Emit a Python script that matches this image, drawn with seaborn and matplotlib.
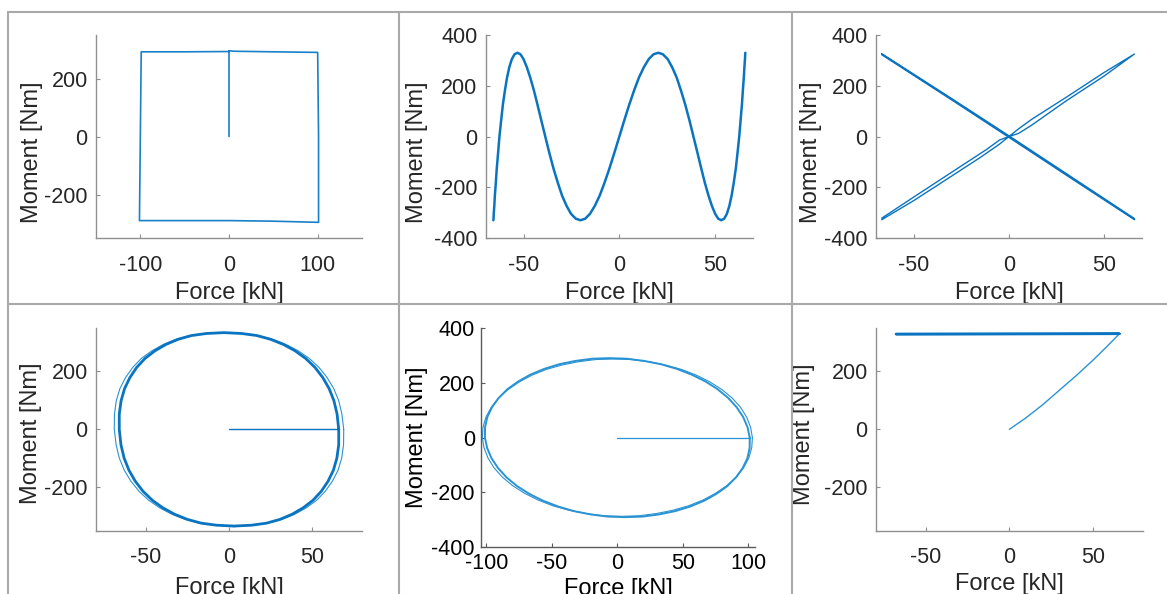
import numpy as np
import pandas as pd
import matplotlib
matplotlib.use("Agg")
import matplotlib.pyplot as plt
import seaborn as sns
from matplotlib.lines import Line2D

sns.set_theme(style="white")
plt.rcParams["font.family"] = ["Liberation Sans", "DejaVu Sans"]
plt.rcParams["axes.unicode_minus"] = False

# ---------------- Test 1: square path ----------------
sq_force = [0, 0, 5, 50, 100, 101, 101, 50, 0, -50, -101, -100, -99, -50, 0]
sq_moment = [0, 296, 294, 292, 290, 0, -296, -292, -290, -290, -290, 0, 292, 292, 293]

# ---------------- Test 2: oscillating moment ----------------
osc_force = [-66.0, -65.9, -65.8, -65.5, -65.2, -64.7, -64.2, -63.5, -62.8, -61.9,
             -61.0, -59.9, -58.8, -57.6, -56.3, -54.9, -53.4, -51.8, -50.2, -48.5,
             -46.7, -44.8, -42.9, -40.9, -38.8, -36.7, -34.5, -32.2, -30.0, -27.6,
             -25.3, -22.8, -20.4, -17.9, -15.4, -12.9, -10.3, -7.8, -5.2, -2.6,
             0.0, 2.6, 5.2, 7.8, 10.3, 12.9, 15.4, 17.9, 20.4, 22.8,
             25.3, 27.6, 30.0, 32.2, 34.5, 36.7, 38.8, 40.9, 42.9, 44.8,
             46.7, 48.5, 50.2, 51.8, 53.4, 54.9, 56.3, 57.6, 58.8, 59.9,
             61.0, 61.9, 62.8, 63.5, 64.2, 64.7, 65.2, 65.5, 65.8, 65.9, 66.0]
osc_moment = [-330, -324, -305, -274, -233, -183, -126, -64, 0, 64,
              126, 183, 233, 274, 305, 324, 330, 324, 305, 274,
              233, 183, 126, 64, 0, -64, -126, -183, -233, -274,
              -305, -324, -330, -324, -305, -274, -233, -183, -126, -64,
              0, 64, 126, 183, 233, 274, 305, 324, 330, 324,
              305, 274, 233, 183, 126, 64, 0, -64, -126, -183,
              -233, -274, -305, -324, -330, -324, -305, -274, -233, -183,
              -126, -64, 0, 64, 126, 183, 233, 274, 305, 324, 330]

# ---------------- Test 3: crossing diagonals ----------------
up_force = [-67, -50, -30, -15, -5, 0, 5, 12, 30, 50, 66, 50, 30, 12, 5, 0, -5, -12, -30, -50, -67]
up_moment = [-328, -252, -155, -82, -30, 0, 12, 45, 140, 238, 325, 252, 154, 68, 30, 0, -14, -52, -140, -238, -322]
down_force = [-67, -30, 0, 30, 66, 66, 30, 0, -30, -67]
down_moment = [326, 148, 2, -146, -324, -327, -151, -3, 144, 323]

# ---------------- Test 4: round orbit ----------------
orb_ramp_force = [0, 33, 66]
orb_ramp_moment = [0, 0, 0]
orb_main_force = [66.0, 65.0, 63.1, 60.2, 56.4, 51.7, 46.1, 39.8, 32.8, 25.0, 16.7, 7.6,
                  -3.0, -13.6, -22.5, -30.6, -38.0, -44.6, -50.5, -55.5, -59.6, -62.8, -64.9, -66.0,
                  -66.0, -65.0, -63.1, -60.2, -56.4, -51.7, -46.1, -39.8, -32.8, -25.0, -16.7, -7.6,
                  3.0, 13.6, 22.5, 30.6, 38.0, 44.6, 50.5, 55.5, 59.6, 62.8, 64.9, 66.0, 66.0]
orb_main_moment = [0, 53, 99, 141, 179, 214, 245, 271, 293, 311, 324, 331,
                   334, 331, 324, 311, 293, 271, 245, 214, 179, 141, 99, 53,
                   0, -53, -99, -141, -179, -214, -245, -271, -293, -311, -324, -331,
                   -334, -331, -324, -311, -293, -271, -245, -214, -179, -141, -99, -53, 0]
orb_outer_force = [69.0, 67.9, 66.0, 63.0, 59.0, 54.1, 48.3, 41.7, 34.4, 26.3, 17.6, 8.1,
                   -3.0, -14.1, -23.4, -31.9, -39.6, -46.5, -52.7, -57.9, -62.2, -65.6, -67.8, -68.9,
                   -69.0, -67.9, -66.0, -63.0, -59.0, -54.1, -48.3, -41.7, -34.4, -26.3, -17.6, -8.1,
                   3.0, 14.1, 23.4, 31.9, 39.6, 46.5, 52.7, 57.9, 62.2, 65.6, 67.8, 68.9, 69.0]
orb_outer_moment = [0, 53, 99, 141, 179, 214, 245, 271, 293, 311, 324, 331,
                    334, 331, 324, 311, 293, 271, 245, 214, 179, 141, 99, 53,
                    0, -53, -99, -141, -179, -214, -245, -271, -293, -311, -324, -331,
                    -336, -331, -324, -311, -293, -271, -245, -214, -179, -141, -99, -53, 0]

# ---------------- Test 5: flat ellipse ----------------
ell_ramp_force = [0, 50, 101]
ell_ramp_moment = [0, 0, 0]
ell_main_force = [101.0, 99.3, 96.0, 91.0, 84.5, 76.4, 67.2, 56.7, 45.3, 33.2, 20.3, 7.3,
                  -6.0, -19.1, -31.9, -44.2, -55.7, -66.3, -75.6, -83.8, -90.5, -95.6, -99.2, -100.9,
                  -101.0, -99.3, -96.0, -91.0, -84.5, -76.4, -67.2, -56.7, -45.3, -33.2, -20.3, -7.3,
                  6.0, 19.1, 31.9, 44.2, 55.7, 66.3, 75.6, 83.8, 90.5, 95.6, 99.2, 100.9, 101.0]
ell_main_moment = [0, 38, 75, 111, 145, 177, 205, 230, 251, 268, 280, 288,
                   290, 288, 280, 268, 251, 230, 205, 177, 145, 111, 75, 38,
                   0, -38, -75, -111, -145, -177, -205, -230, -251, -268, -280, -288,
                   -290, -288, -280, -268, -251, -230, -205, -177, -145, -111, -75, -38, 0]
ell_outer_force = [103.0, 101.7, 98.7, 94.1, 87.7, 79.9, 70.7, 60.3, 48.9, 36.6, 23.8, 10.4,
                   -3.0, -16.4, -29.6, -42.2, -54.1, -65.1, -74.9, -83.5, -90.7, -96.3, -100.3, -102.5,
                   -103.0, -101.7, -98.7, -94.1, -87.7, -79.9, -70.7, -60.3, -48.9, -36.6, -23.8, -10.4,
                   3.0, 16.4, 29.6, 42.2, 54.1, 65.1, 74.9, 83.5, 90.7, 96.3, 100.3, 102.5, 103.0]
ell_outer_moment = [0, 37, 74, 110, 144, 175, 203, 228, 249, 265, 277, 285,
                    287, 285, 277, 265, 249, 228, 203, 175, 144, 110, 74, 37,
                    0, -37, -74, -110, -144, -175, -203, -228, -249, -265, -277, -285,
                    -287, -285, -277, -265, -249, -228, -203, -175, -144, -110, -74, -37, 0]

# ---------------- Test 6: ramp then constant moment ----------------
ramp_force = [0, 10, 20, 30, 40, 50, 58, 66]
ramp_moment = [0, 40, 85, 135, 185, 238, 283, 330]
hold_force = [66, -68, 66]
hold_moment = [330, 329, 330]

W, H = 1167, 594
fig = plt.figure(figsize=(W / 100, H / 100), dpi=100)
fig.patch.set_facecolor("white")


def axes_px(x0, y0, x1, y1):
    return fig.add_axes([x0 / W, 1 - y1 / H, (x1 - x0) / W, (y1 - y0) / H])


def trace(ax, fx, my, color, lw):
    df = pd.DataFrame({"Force": fx, "Moment": my})
    sns.lineplot(data=df, x="Force", y="Moment", sort=False, estimator=None,
                 color=color, linewidth=lw, ax=ax)


def style(ax, xlim, ylim, xticks, yticks, xpad, ypad, xlab_y, ylab_x, ylab_y,
          text_color="#262626", spine_color="#8f8f8f"):
    ax.set_xlim(*xlim)
    ax.set_ylim(*ylim)
    ax.set_xticks(xticks)
    ax.set_yticks(yticks)
    ax.set_facecolor("white")
    for s in ("top", "right"):
        ax.spines[s].set_visible(False)
    for s in ("left", "bottom"):
        ax.spines[s].set_color(spine_color)
        ax.spines[s].set_linewidth(1.0)
    ax.tick_params(direction="in", length=3, width=0.8, color=spine_color,
                   labelsize=15.5, labelcolor=text_color, left=True, bottom=True)
    ax.tick_params(axis="x", pad=xpad)
    ax.tick_params(axis="y", pad=ypad)
    ax.set_xlabel("Force [kN]", fontsize=17, color=text_color)
    ax.set_ylabel("Moment [Nm]", fontsize=17, color=text_color)
    ax.xaxis.set_label_coords(0.5, xlab_y)
    ax.yaxis.set_label_coords(ylab_x, ylab_y)


blue = "#0b74c0"
mid = "#1a80c8"
light = "#2a93d4"

# Panel 1
ax1 = axes_px(96, 35, 362, 238)
trace(ax1, sq_force, sq_moment, mid, 1.2)
style(ax1, (-150, 150), (-350, 350), [-100, 0, 100], [-200, 0, 200], 12, 6,
      -0.215, -0.2, 0.42)

# Panel 2
ax2 = axes_px(485.7, 35, 753, 238)
trace(ax2, osc_force, osc_moment, blue, 1.8)
style(ax2, (-70, 70), (-400, 400), [-50, 0, 50], [-400, -200, 0, 200, 400], 12, 6,
      -0.215, -0.216, 0.42)

# Panel 3
ax3 = axes_px(876, 35, 1142, 238)
trace(ax3, up_force, up_moment, blue, 1.0)
trace(ax3, down_force, down_moment, blue, 1.2)
style(ax3, (-70, 70), (-400, 400), [-50, 0, 50], [-400, -200, 0, 200, 400], 12, 6,
      -0.215, -0.203, 0.42)

# Panel 4
ax4 = axes_px(96, 328, 362, 530.7)
trace(ax4, orb_ramp_force, orb_ramp_moment, blue, 1.0)
trace(ax4, orb_outer_force, orb_outer_moment, light, 0.8)
trace(ax4, orb_main_force, orb_main_moment, blue, 2.0)
style(ax4, (-80, 80), (-350, 350), [-50, 0, 50], [-200, 0, 200], 12, 6,
      -0.227, -0.203, 0.48)

# Panel 5
ax5 = axes_px(481, 328, 755, 547.3)
trace(ax5, ell_ramp_force, ell_ramp_moment, light, 0.9)
trace(ax5, ell_outer_force, ell_outer_moment, light, 0.8)
trace(ax5, ell_main_force, ell_main_moment, light, 1.4)
style(ax5, (-104, 105), (-400, 400), [-100, -50, 0, 50, 100], [-400, -200, 0, 200, 400],
      4, 4.5, -0.14, -0.193, 0.5, text_color="black", spine_color="#5a5a5a")

# Panel 6
ax6 = axes_px(876, 328, 1142.7, 530.7)
trace(ax6, ramp_force, ramp_moment, light, 1.0)
trace(ax6, hold_force, hold_moment, blue, 1.8)
style(ax6, (-80, 80), (-350, 350), [-50, 0, 50], [-200, 0, 200], 12, 6,
      -0.208, -0.229, 0.477)

# Table-style cell borders around the six panels
grid = "#a9a9a9"
for y in (12, 304):
    fig.add_artist(Line2D([8 / W, 1.0], [1 - y / H] * 2, transform=fig.transFigure,
                          color=grid, lw=1.5))
for x in (8, 398.5, 792):
    fig.add_artist(Line2D([x / W] * 2, [1 - 12 / H, 0.0], transform=fig.transFigure,
                          color=grid, lw=1.5))

fig.savefig("out.png", dpi=100, facecolor="white")
